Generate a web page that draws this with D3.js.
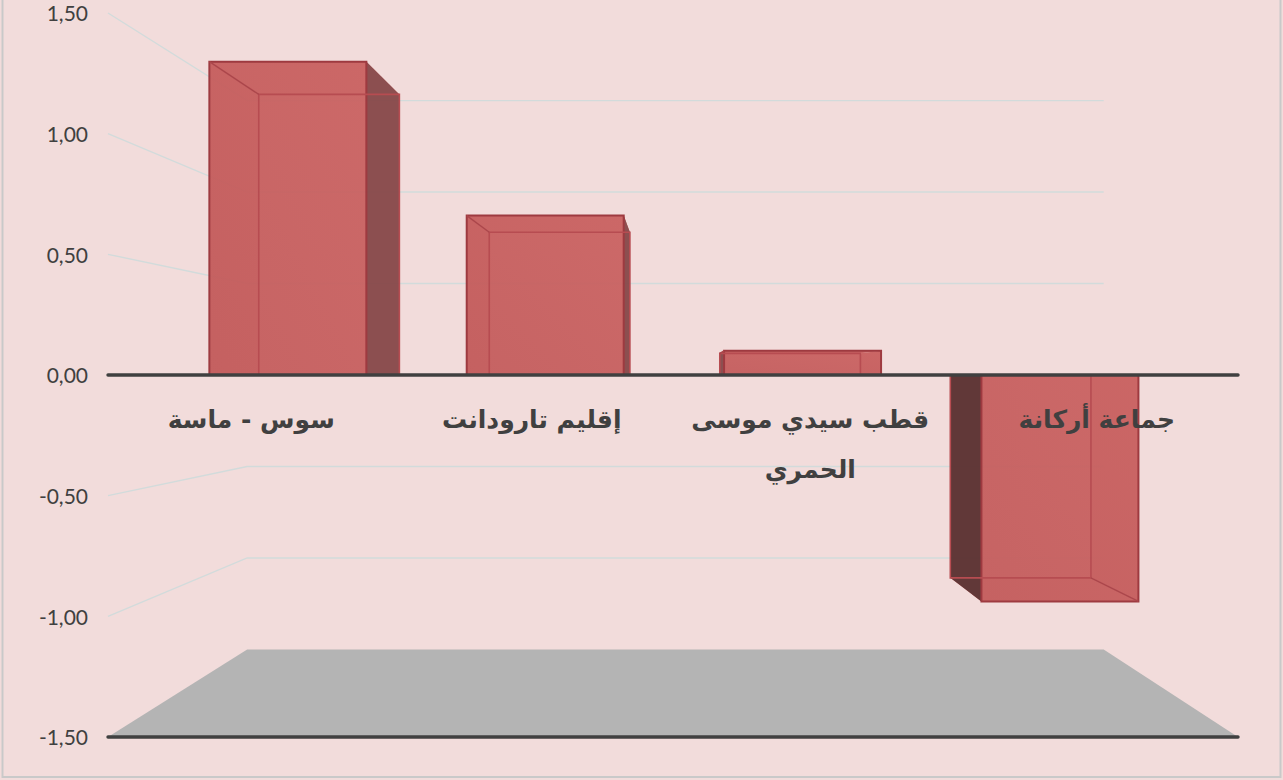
<!DOCTYPE html>
<html><head><meta charset="utf-8">
<script src="https://cdn.jsdelivr.net/npm/d3@7"></script>
<style>html,body{margin:0;padding:0;background:#f2dcdb;overflow:hidden}svg{display:block}</style>
</head><body><svg id="c" width="1283" height="780"></svg>
<script>
const categoryLines = [["سوس - ماسة"],["إقليم تارودانت"],["قطب سيدي موسى","الحمري"],["جماعة أركانة"]];
const values = [1.425, 0.725, 0.11, -1.03];
const tickValues = [1.5, 1.0, 0.5, 0, -0.5, -1.0, -1.5];
const tickLabels = ["1,50","1,00","0,50","0,00","-0,50","-1,00","-1,50"];

const svg = d3.select("#c");
const x = d3.scaleBand().domain(d3.range(categoryLines.length)).range([108,1238]).paddingInner(0.39).paddingOuter(0.195);
const y = d3.scaleLinear().domain([-1.5,1.5]).range([737,13]);
const vx = 683, vy = y(0);
const backS = 0.758, barFrontS = 0.911, barBackS = 0.816;
const P = (px,v,s)=>[vx+(px-vx)*s, vy+(y(v)-vy)*s];
const poly = pts=>pts.map(p=>p.join(",")).join(" ");
const L = 108, R = 1238;

svg.append("rect").attr("x",2.5).attr("y",-4).attr("width",1278).attr("height",781)
  .attr("fill","#f2dcdb").attr("stroke","#c9c9c9").attr("stroke-width",2);

const defs = svg.append("defs");
const g1 = defs.append("linearGradient").attr("id","frontG").attr("x1",0).attr("x2",1).attr("y1",1).attr("y2",0);
g1.append("stop").attr("offset",0).attr("stop-color","#c05858");
g1.append("stop").attr("offset",1).attr("stop-color","#d26866");

// floor
svg.append("polygon").attr("points",poly([P(L,-1.5,1),P(R,-1.5,1),P(R,-1.5,backS),P(L,-1.5,backS)])).attr("fill","#b4b4b4");

// gridlines on wall
tickValues.filter(v=>v!==0&&v!==-1.5).forEach(v=>{
  const a=P(L,v,1), b=P(L,v,backS), c=P(R,v,backS);
  svg.append("polyline").attr("points",poly([a,b,c])).attr("fill","none").attr("stroke","#d2dbdb").attr("stroke-width",1.4);
});

// bars
values.forEach((v,i)=>{
  const l=x(i), r=x(i)+x.bandwidth();
  const g=svg.append("g").attr("opacity",.95);
  const A=[P(l,v,barFrontS),P(r,v,barFrontS),P(r,0,barFrontS),P(l,0,barFrontS)];
  const B=[P(l,v,barBackS),P(r,v,barBackS),P(r,0,barBackS),P(l,0,barBackS)];
  const edge="#b4454a";
  g.append("polygon").attr("points",poly(B)).attr("fill","#c66060");
  const sideL=[A[0],B[0],B[3],A[3]], sideR=[A[1],B[1],B[2],A[2]];
  const darkSide = i<2 ? sideR : sideL;
  const lightSide = i<2 ? sideL : sideR;
  const darkFill = v>0 ? "#874849" : "#5a3030";
  g.append("polygon").attr("points",poly([A[0],A[1],B[1],B[0]])).attr("fill","#c55e5e");
  g.append("polygon").attr("points",poly(lightSide)).attr("fill","#c45c5c");
  g.append("polygon").attr("points",poly(darkSide)).attr("fill",darkFill);
  g.append("polygon").attr("points",poly(A)).attr("fill","url(#frontG)").attr("fill-opacity",.35).attr("stroke","#9a3238").attr("stroke-width",2);
  g.append("polygon").attr("points",poly(B)).attr("fill","none").attr("stroke",edge).attr("stroke-width",1.6);
  const cornerA = v>0 ? A[0] : A[1], cornerB = v>0 ? B[0] : B[1];
  g.append("line").attr("x1",cornerA[0]).attr("y1",cornerA[1]).attr("x2",cornerB[0]).attr("y2",cornerB[1]).attr("stroke","#a83f44").attr("stroke-width",1.4);
});

// axis lines
[0,-1.5].forEach(v=>{
  svg.append("line").attr("x1",L).attr("x2",R).attr("y1",y(v)).attr("y2",y(v))
    .attr("stroke","#404040").attr("stroke-width",3.4).attr("stroke-linecap","round");
});

// value axis
const axis = d3.axisLeft(y).tickValues(tickValues).tickSize(0).tickPadding(0)
  .tickFormat(v=>tickLabels[tickValues.indexOf(v)]);
const ax = svg.append("g").attr("transform","translate(88,1)").call(axis);
ax.select(".domain").remove();
ax.selectAll("text").attr("font-family","Lato, 'Open Sans', sans-serif").attr("font-size",21).attr("fill","#404040");

// category labels
const labelNudge=[2,0,-4,0];
categoryLines.forEach((lines,i)=>{
  const cx=x(i)+x.bandwidth()/2+labelNudge[i];
  lines.forEach((t,j)=>{
    svg.append("text").attr("x",cx).attr("y",428+j*50)
      .attr("text-anchor","middle").attr("direction","rtl")
      .attr("font-family","'DejaVu Sans', sans-serif").attr("font-weight","bold")
      .attr("font-size",25).attr("fill","#404040").text(t);
  });
});
</script></body></html>
